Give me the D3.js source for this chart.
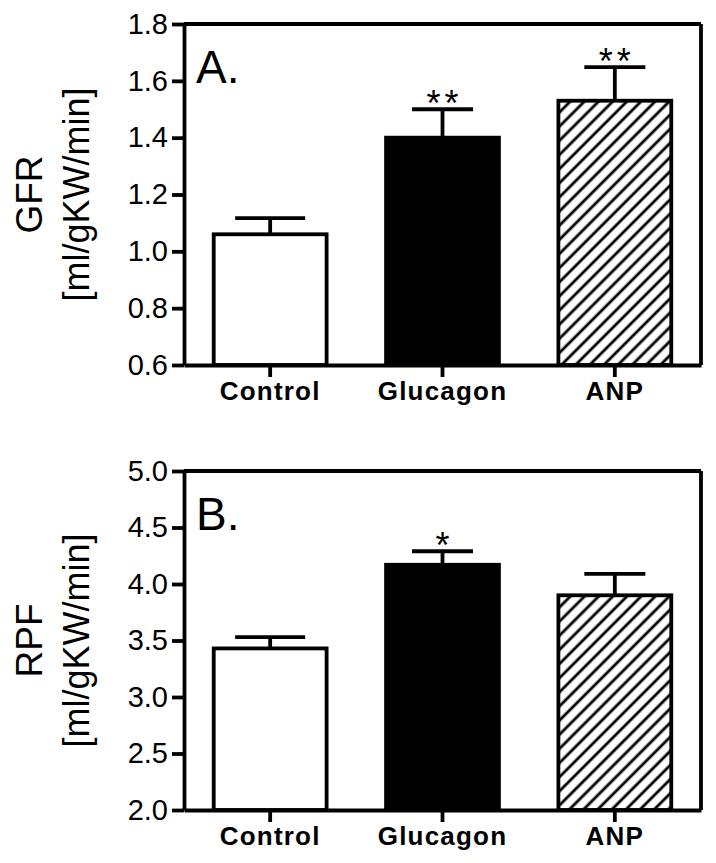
<!DOCTYPE html>
<html>
<head>
<meta charset="utf-8">
<script src="https://cdn.jsdelivr.net/npm/d3@7"></script>
<style>
  html, body { margin: 0; padding: 0; background: #fff; }
  svg { display: block; }
  text { font-family: "Liberation Sans", Arial, Helvetica, sans-serif; fill: #000; }
</style>
</head>
<body>
<svg id="chart" width="716" height="863"></svg>
<script>
// ---- data ----
const categories = ["Control", "Glucagon", "ANP"];

const gfrMeans = [1.06, 1.40, 1.53];
const gfrErrors = [0.057, 0.10, 0.118];
const gfrSig = ["", "**", "**"];
const gfrTicks = [0.6, 0.8, 1.0, 1.2, 1.4, 1.6, 1.8];

const rpfMeans = [3.43, 4.17, 3.90];
const rpfErrors = [0.10, 0.12, 0.19];
const rpfSig = ["", "*", ""];
const rpfTicks = [2.0, 2.5, 3.0, 3.5, 4.0, 4.5, 5.0];

const panels = [
  { letter: "A.", title: "GFR", unit: "[ml/gKW/min]", means: gfrMeans, errors: gfrErrors, sig: gfrSig, ticks: gfrTicks, domain: [0.6, 1.8], top: 24, bottom: 365 },
  { letter: "B.", title: "RPF", unit: "[ml/gKW/min]", means: rpfMeans, errors: rpfErrors, sig: rpfSig, ticks: rpfTicks, domain: [2.0, 5.0], top: 471, bottom: 810 }
];

const svg = d3.select("#chart");
const left = 184, right = 701;
const fills = ["#fff", "#000", "url(#hatch)"];
const capW = [70, 61, 61];
const sw = 3.8;

const defs = svg.append("defs");
const pat = defs.append("pattern")
  .attr("id", "hatch")
  .attr("patternUnits", "userSpaceOnUse")
  .attr("width", 10).attr("height", 10)
  .attr("patternTransform", "rotate(45)");
pat.append("rect").attr("width", 10).attr("height", 10).attr("fill", "#fff");
pat.append("line").attr("x1", 5).attr("y1", 0).attr("x2", 5).attr("y2", 10)
  .attr("stroke", "#000").attr("stroke-width", 2.8);

const x = d3.scaleBand().domain(categories).range([left, right]).paddingInner(0.345).paddingOuter(0.1725);

panels.forEach(p => {
  const g = svg.append("g");
  const y = d3.scaleLinear().domain(p.domain).range([p.bottom, p.top]);

  // bars
  g.selectAll("rect.bar").data(categories).join("rect")
    .attr("class", "bar")
    .attr("x", d => x(d))
    .attr("width", x.bandwidth())
    .attr("y", (d, i) => y(p.means[i]))
    .attr("height", (d, i) => p.bottom - y(p.means[i]))
    .attr("fill", (d, i) => fills[i])
    .attr("stroke", "#000").attr("stroke-width", sw);

  // error bars
  categories.forEach((c, i) => {
    const cx = x(c) + x.bandwidth() / 2;
    const yt = y(p.means[i] + p.errors[i]);
    g.append("line").attr("x1", cx).attr("x2", cx)
      .attr("y1", y(p.means[i])).attr("y2", yt)
      .attr("stroke", "#000").attr("stroke-width", sw);
    g.append("line").attr("x1", cx - capW[i] / 2).attr("x2", cx + capW[i] / 2)
      .attr("y1", yt).attr("y2", yt)
      .attr("stroke", "#000").attr("stroke-width", sw);
    if (p.sig[i]) {
      g.append("text").attr("x", cx + 2).attr("y", yt + 7)
        .attr("text-anchor", "middle")
        .attr("font-size", 36)
        .attr("letter-spacing", 4)
        .text(p.sig[i]);
    }
  });

  // frame
  g.append("line").attr("x1", left).attr("x2", right).attr("y1", p.top).attr("y2", p.top)
    .attr("stroke", "#000").attr("stroke-width", sw);
  g.append("line").attr("x1", right).attr("x2", right).attr("y1", p.top).attr("y2", p.bottom)
    .attr("stroke", "#000").attr("stroke-width", sw);

  // y axis
  const ya = g.append("g").attr("transform", `translate(${left},0)`)
    .call(d3.axisLeft(y).tickValues(p.ticks).tickFormat(d3.format(".1f")).tickSize(12).tickSizeOuter(0).tickPadding(4));
  ya.select(".domain").attr("stroke-width", sw);
  ya.selectAll(".tick line").attr("stroke-width", sw);
  ya.selectAll(".tick text").attr("font-size", 29).attr("font-family", "Liberation Sans, Arial, sans-serif").attr("fill", "#000");

  // x axis
  const xa = g.append("g").attr("transform", `translate(0,${p.bottom})`)
    .call(d3.axisBottom(x).tickSize(12).tickSizeOuter(0).tickPadding(6));
  xa.select(".domain").attr("stroke-width", sw);
  xa.selectAll(".tick line").attr("stroke-width", sw);
  xa.selectAll(".tick text").attr("font-size", 26).attr("font-weight", "bold")
    .attr("letter-spacing", 1.2)
    .attr("font-family", "Liberation Sans, Arial, sans-serif").attr("fill", "#000")
    .attr("dy", 0).attr("y", 35);

  // panel letter
  g.append("text").attr("x", 196).attr("y", p.top + 59)
    .attr("font-size", 46).text(p.letter);

  // y titles
  const cy = (p.top + p.bottom) / 2;
  g.append("text").attr("transform", `translate(42,${cy}) rotate(-90)`)
    .attr("text-anchor", "middle").attr("font-size", 37).text(p.title);
  g.append("text").attr("transform", `translate(89,${cy}) rotate(-90)`)
    .attr("text-anchor", "middle").attr("font-size", 36).text(p.unit);
});
</script>
</body>
</html>
